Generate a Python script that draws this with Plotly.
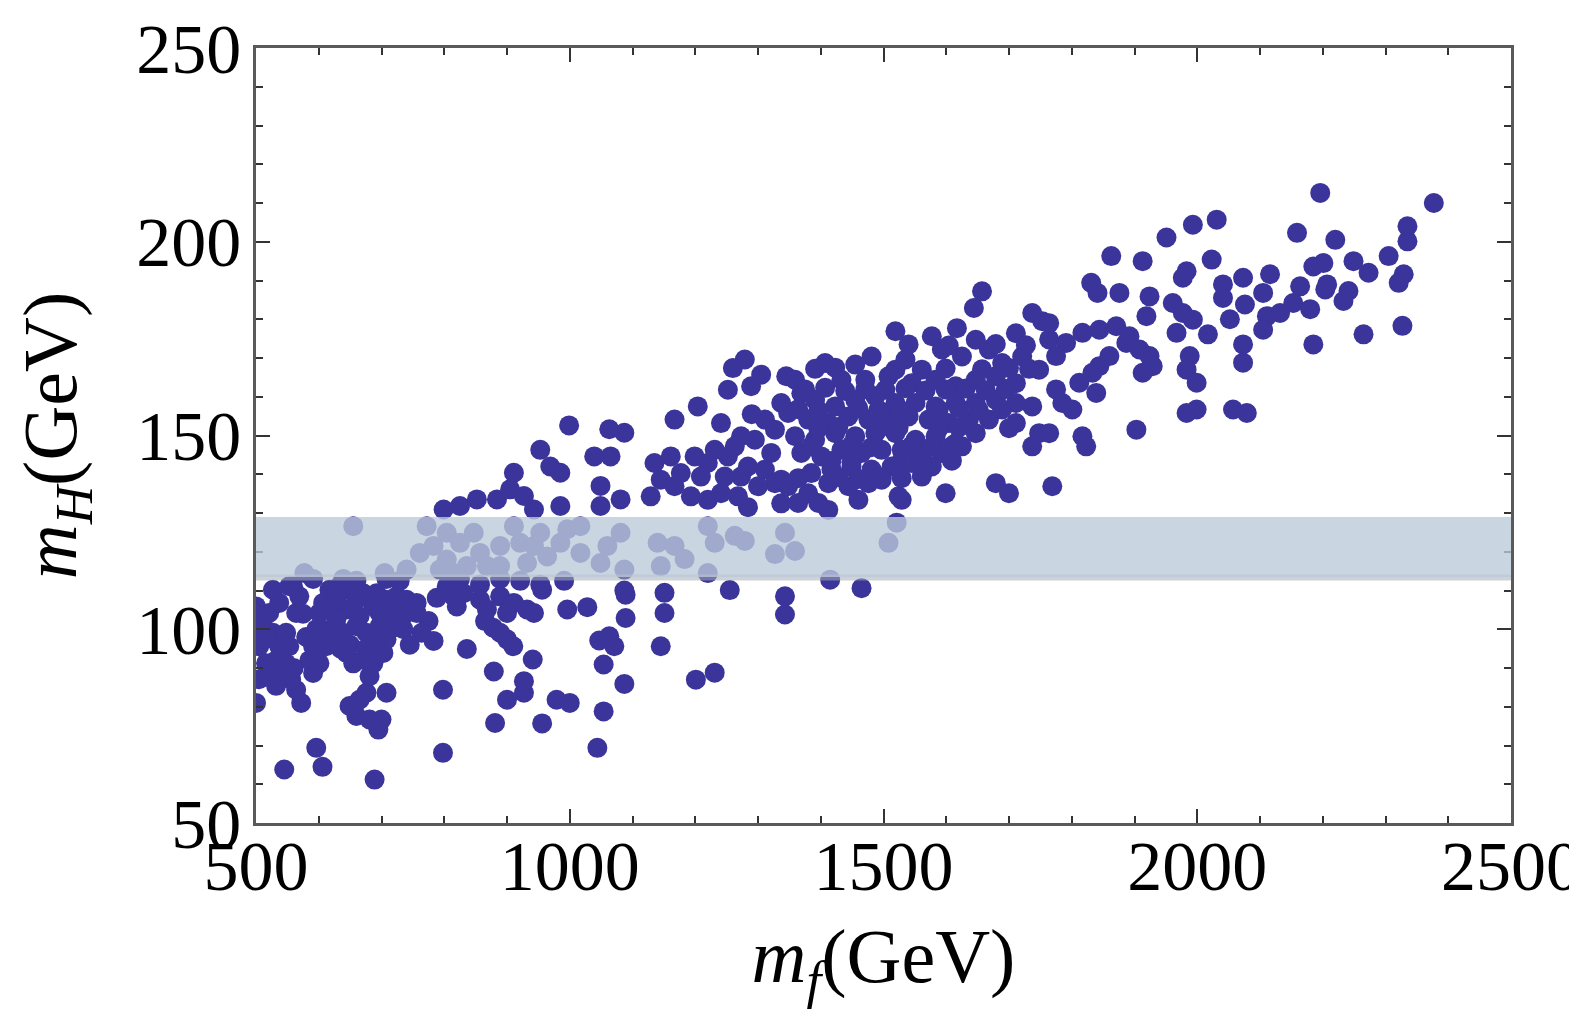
import plotly.graph_objects as go

# ---- data (m_f in GeV, m_H in GeV) ----
mf_gev = [
    545, 596, 606, 689, 798, 798, 881, 956, 1044, 1054, 1087, 1054, 1047, 1063, 1071, 1089, 1089, 996, 1028, 956,
    979, 1000, 927, 927, 900, 879, 941, 910, 900, 889, 878, 865, 836, 788, 775, 764, 783, 820, 708, 695,
    681, 660, 649, 665, 676, 700, 572, 564, 556, 591, 601, 591, 612, 607, 681, 687, 703, 713, 708, 644,
    655, 671,
    500, 500, 511, 505, 516, 505, 500, 527, 537, 548, 543, 532, 553, 564, 569, 559, 548, 521, 537, 527,
    617, 633, 649, 671, 692, 708, 724, 740, 756, 756, 740, 719, 697, 687, 665, 644, 623, 601, 607, 628,
    676, 660, 639, 697, 660, 628,
    516, 532, 521, 580, 585, 575, 560, 596, 620, 635, 650, 720, 735, 745, 690, 675,
    655, 577, 705, 740, 761, 772, 783, 804, 804, 825, 847, 857, 868, 889, 911, 921, 943, 953, 964, 985,
    996, 1017, 1017, 1049, 1060, 1081, 1087, 836, 815, 793, 889, 932,
    799, 825, 852, 884, 911, 905, 927, 943, 953, 969, 985, 985, 1039, 1065, 1049, 1049, 1081,
    553, 591, 639, 660, 708, 729, 825, 857, 889, 921, 953, 991, 1087,
    999, 1063, 1087,
    831, 857, 889, 911, 932, 943, 900, 868, 815, 804,
    1151, 1151, 1145, 1201, 1231, 1255, 1343, 1343, 1415, 1465, 1220,
    1140, 1145, 1167, 1183, 1220, 1231, 1263, 1279, 1327, 1343, 1359, 1508, 1521,
    1167, 1204, 1241, 1199, 1220, 1252, 1273, 1295, 1311, 1327, 1268, 1135, 1145, 1167, 1193, 1220, 1241, 1161,
    1129, 1284, 1300, 1321, 1284, 1337, 1412, 1529,
    1231, 1263, 1209, 1247, 1273, 1177, 1337, 1311, 1337, 1327, 1290,
    1279, 1260, 1305, 1289, 1252, 1345,
    1657, 1644, 1519, 1617, 1737, 1753, 1711,
    1577, 1647, 1407, 1455, 1481, 1535, 1561, 1593, 1625, 1668, 1689, 1721, 1748, 1433, 1471, 1508, 1545, 1583,
    1615, 1647, 1679, 1711, 1737, 1711, 1748, 1737, 1679, 1700, 1599, 1524, 1497,
    1359, 1369, 1391, 1423, 1455, 1487, 1519, 1551, 1583, 1615, 1647, 1679, 1711,
    1348, 1380, 1412, 1444, 1476, 1508, 1540, 1572, 1604, 1636, 1668, 1689,
    1359, 1391, 1423, 1455, 1487, 1519, 1551, 1583, 1615, 1647,
    1369, 1401, 1433, 1465, 1497, 1529, 1561, 1593, 1625,
    1385, 1417, 1449, 1481, 1513, 1545, 1577,
    1348, 1380, 1412, 1444, 1476, 1460, 1364, 1396,
    1375, 1407, 1439, 1471, 1503, 1535, 1567, 1599, 1631, 1663, 1695,
    1364, 1396, 1460, 1492, 1524, 1588, 1620, 1652,
    1396, 1428, 1492, 1524, 1588, 1620, 1700,
    1385, 1449, 1481, 1545, 1577, 1609,
    1417, 1449, 1529, 1561, 1609,
    1364, 1428, 1460, 1497, 1529, 1561,
    1391, 1423, 1519, 1599, 1657, 1700, 1732,
    1540, 1604, 1679, 1727,
    1993, 2031, 1951, 1863, 1913, 2023, 2159, 1983, 1977, 1831, 1841, 1876, 1924, 2073, 2116, 2041, 2041, 2105,
    2076, 2164, 2153, 1961, 1977, 1967, 2017, 2052, 2111, 2132, 2105, 1919, 2073, 1993,
    1764, 1791, 1817, 1844, 1871, 1892, 1908, 1887, 1764,
    1924, 1929, 1913, 1988, 1983, 1999, 1983, 1999, 2057, 2079, 1903, 2073, 1769, 1764, 1812, 1839, 1785, 1801,
    1775, 1817, 1823, 1844, 1833, 1860, 1775,
    2196, 2377, 2335, 2335, 2220, 2201, 2185, 2249, 2273, 2305, 2329, 2321, 2207, 2204, 2241, 2233, 2180, 2265,
    2327, 2185,
]
mh_gev = [
    63.8, 69.4, 64.5, 61.2, 68.1, 84.4, 75.8, 75.7, 69.4, 78.8, 85.9, 90.9, 97.1, 98.2, 95.6, 102.9, 108.9, 105.1, 105.7, 110.2,
    81.8, 81.0, 83.6, 86.6, 81.8, 89.1, 92.2, 95.6, 97.4, 99.1, 100.4, 102.1, 94.9, 108.1, 102.1, 99.1, 97.0, 105.9, 83.6, 74.1,
    76.7, 77.6, 80.2, 81.8, 83.6, 76.7, 81.0, 84.4, 87.0, 88.7, 91.2, 95.6, 95.6, 99.9, 87.9, 91.2, 93.9, 99.9, 97.4, 93.9,
    91.2, 92.1,
    105.9, 99.9, 102.5, 95.6, 91.2, 87.1, 81.0, 99.1, 95.6, 91.2, 87.9, 85.4, 95.6, 104.2, 108.5, 111.1, 99.1, 104.2, 106.8, 110.2,
    110.2, 111.1, 110.2, 109.3, 109.3, 107.6, 108.5, 107.6, 106.8, 104.2, 104.2, 105.9, 104.2, 105.9, 103.3, 105.1, 105.1, 104.2, 106.8, 102.5,
    99.1, 100.8, 99.1, 100.8, 107.6, 107.6,
    97.5, 92.0, 88.0, 98.0, 92.0, 104.0, 90.0, 100.0, 98.0, 95.0, 96.0, 102.0, 100.0, 96.0, 96.0, 95.0,
    126.6, 114.5, 114.5, 115.4, 119.7, 126.6, 121.5, 124.9, 118.0, 122.3, 124.9, 119.7, 116.3, 121.5, 126.6, 122.3, 121.5, 124.9, 118.8, 122.3,
    125.8, 126.6, 119.7, 117.1, 121.5, 124.9, 115.4, 116.3, 114.5, 115.4, 116.3, 117.1,
    130.9, 131.8, 133.5, 133.5, 140.4, 136.1, 134.4, 130.9, 146.3, 142.0, 140.4, 131.8, 144.6, 144.6, 137.0, 131.8, 133.5,
    111.1, 113.0, 113.0, 112.5, 113.0, 112.5, 113.0, 111.5, 113.0, 112.5, 111.5, 112.5, 110.0,
    152.6, 151.6, 150.7,
    109.3, 107.6, 108.5, 106.8, 105.1, 104.2, 104.2, 105.1, 108.5, 111.1,
    109.4, 104.2, 95.6, 87.0, 88.8, 110.1, 108.5, 103.8, 112.8, 110.6, 114.5,
    122.3, 116.3, 121.5, 118.1, 126.6, 122.3, 124.1, 122.8, 119.4, 124.9, 120.2, 122.3, 127.5,
    154.1, 157.5, 153.2, 144.6, 142.9, 144.6, 149.8, 148.9, 141.2, 137.7, 134.3, 142.9, 138.6, 136.9, 134.3, 133.4, 135.1, 144.6,
    134.3, 142.0, 136.9, 145.5, 131.5, 132.5, 130.8, 133.4,
    146.3, 147.2, 139.4, 139.4, 139.4, 140.3, 138.6, 154.1, 158.4, 151.5, 155.5,
    169.6, 167.4, 165.7, 162.7, 161.8, 165.3,
    187.2, 182.9, 176.9, 177.7, 181.6, 179.5, 176.4,
    175.6, 174.7, 168.7, 168.3, 170.4, 169.6, 167.0, 172.2, 170.4, 172.2, 168.7, 170.4, 167.0, 164.4, 164.4, 165.3, 163.5, 164.4,
    162.7, 164.4, 165.3, 163.5, 157.5, 153.2, 150.6, 147.2, 137.7, 135.1, 135.1, 134.3, 138.6,
    164.4, 160.9, 159.2, 157.5, 159.2, 160.1, 158.4, 158.4, 157.5, 158.4, 158.4, 159.2, 158.4,
    155.8, 154.1, 153.2, 154.9, 154.1, 154.9, 154.9, 154.1, 153.2, 154.1, 154.1, 156.7,
    149.8, 148.9, 150.6, 149.8, 150.6, 150.6, 148.9, 149.8, 148.0, 150.6,
    145.5, 144.6, 146.3, 145.5, 146.3, 146.3, 144.6, 145.5, 147.2,
    140.3, 141.2, 142.0, 141.2, 142.0, 142.9, 142.0,
    136.9, 135.1, 137.7, 136.9, 137.7, 133.4, 132.6, 132.6,
    161.9, 162.3, 161.5, 162.0, 161.8, 162.2, 161.6, 161.9, 162.1, 161.7, 162.0,
    156.8, 156.5, 157.0, 156.6, 156.9, 156.7, 157.1, 156.5,
    151.9, 152.2, 151.7, 152.0, 151.8, 152.1, 151.9,
    147.2, 147.5, 147.0, 147.4, 147.1, 147.3,
    143.4, 143.1, 143.6, 143.2, 143.5,
    139.0, 139.3, 138.8, 139.2, 139.0, 139.4,
    167.2, 167.5, 167.0, 167.3, 167.1, 167.4, 167.2,
    173.5, 173.2, 173.6, 173.3,
    204.4, 205.7, 201.1, 196.3, 195.0, 195.4, 202.3, 192.4, 190.7, 189.4, 186.8, 186.8, 185.9, 190.7, 191.6, 189.0, 185.5, 186.8,
    183.8, 188.5, 184.2, 184.2, 181.6, 176.5, 176.1, 180.0, 180.8, 181.6, 177.3, 180.8, 173.5, 179.9,
    174.8, 173.9, 176.5, 177.3, 178.2, 175.6, 172.2, 173.9, 179.0,
    170.5, 167.9, 166.2, 170.5, 167.0, 163.6, 155.8, 156.7, 156.7, 155.8, 151.5, 168.8, 136.9, 150.6, 163.6, 161.0, 158.4, 156.7,
    161.9, 149.8, 147.2, 167.9, 166.2, 170.5, 170.5,
    212.6, 210.0, 204.0, 200.1, 200.5, 194.5, 193.6, 195.0, 192.0, 196.3, 191.6, 189.4, 189.0, 187.7, 187.3, 184.7, 182.6, 176.1,
    178.3, 173.5,
]

# allowed Higgs-mass band (GeV)
band_low = 113.5
band_high = 129.0

x_ticks = [500, 1000, 1500, 2000, 2500]
y_ticks = [50, 100, 150, 200, 250]

point_color = "#3a349b"
serif = "Liberation Serif, Times New Roman, serif"

fig = go.Figure()
fig.add_trace(go.Scatter(
    x=mf_gev, y=mh_gev, mode="markers",
    marker=dict(size=20, color=point_color, line=dict(width=0)),
    showlegend=False, hoverinfo="x+y",
))

# shadow under the band, then the band itself (drawn above the points)
fig.add_shape(type="rect", xref="x", yref="y", x0=500, x1=2500,
              y0=band_low - 0.9, y1=band_low + 0.6,
              fillcolor="rgba(165,172,180,0.55)", line=dict(width=0), layer="above")
fig.add_shape(type="rect", xref="x", yref="y", x0=500, x1=2500,
              y0=band_low, y1=band_high,
              fillcolor="rgba(188,202,218,0.79)", line=dict(width=0), layer="above")

axis_common = dict(
    showgrid=False, zeroline=False,
    showline=True, linecolor="#5a5a5a", linewidth=2.5, mirror="ticks",
    ticks="inside", ticklen=14, tickwidth=2, tickcolor="#333333",
    tickfont=dict(family=serif, size=70, color="black"),
)

fig.update_xaxes(
    range=[500, 2500], tickvals=x_ticks, ticktext=[str(v) for v in x_ticks],
    minor=dict(dtick=100, ticks="inside", ticklen=7, tickwidth=1.5, tickcolor="#333333"),
    title=dict(text="<i>m</i><sub><i>f</i></sub>(GeV)", font=dict(family=serif, size=76, color="black"), standoff=26),
    ticklabelstandoff=-20,
    **axis_common,
)
fig.update_yaxes(
    range=[50, 250], tickvals=y_ticks, ticktext=[str(v) for v in y_ticks],
    minor=dict(dtick=10, ticks="inside", ticklen=7, tickwidth=1.5, tickcolor="#333333"),
    title=dict(text="<i>m</i><sub><i>H</i></sub>(GeV)", font=dict(family=serif, size=76, color="black"), standoff=38),
    ticklabelstandoff=-2,
    **axis_common,
)

fig.update_layout(
    width=1577, height=1023,
    margin=dict(l=248, r=74, t=40, b=208, autoexpand=False),
    paper_bgcolor="white", plot_bgcolor="white",
)

fig.write_html("out.html")
